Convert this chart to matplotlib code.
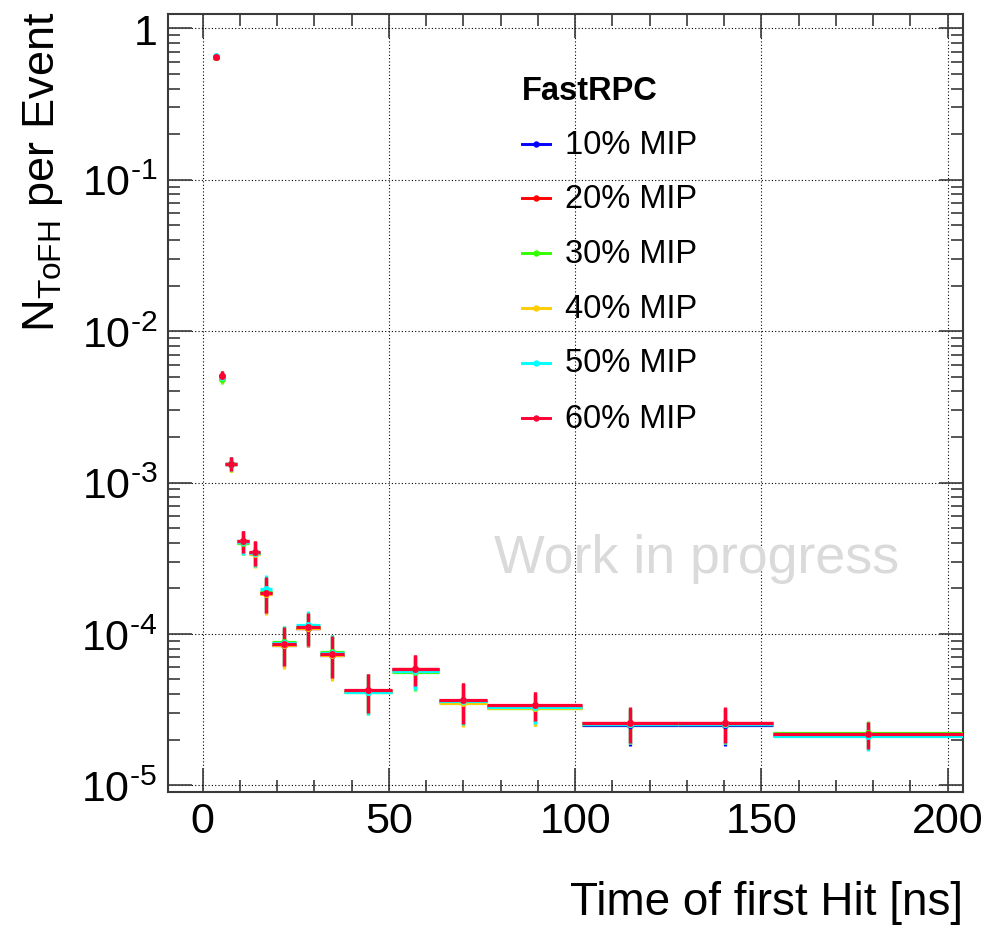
import math
import matplotlib
matplotlib.use("Agg")
import matplotlib.pyplot as plt
from matplotlib.ticker import FixedLocator, LogLocator, FuncFormatter, NullFormatter
from matplotlib.lines import Line2D

plt.rcParams['font.family'] = ['Liberation Sans', 'DejaVu Sans']
plt.rcParams['mathtext.fontset'] = 'custom'
plt.rcParams['mathtext.rm'] = 'Liberation Sans'
plt.rcParams['mathtext.it'] = 'Liberation Sans:italic'
plt.rcParams['mathtext.bf'] = 'Liberation Sans:bold'

# ---------------- data ----------------
bin_lo = [2.7, 4.3, 5.9, 9.1, 12.3, 15.5, 18.7, 25.1, 31.5, 37.9, 50.7, 63.5, 76.3, 101.9, 127.5, 153.1]
bin_hi = [4.3, 5.9, 9.1, 12.3, 15.5, 18.7, 25.1, 31.5, 37.9, 50.7, 63.5, 76.3, 101.9, 127.5, 153.1, 204.3]

labels = ["10% MIP", "20% MIP", "30% MIP", "40% MIP", "50% MIP", "60% MIP"]
colors = ["#0000ff", "#ff0000", "#33ff00", "#ffcc00", "#00ffff", "#ff0033"]

v10 = [0.648, 5.00e-3, 1.33e-3, 4.05e-4, 3.42e-4, 1.85e-4, 8.50e-5, 1.09e-4, 7.30e-5, 4.18e-5, 5.75e-5, 3.60e-5, 3.28e-5, 2.49e-5, 2.49e-5, 2.16e-5]
v20 = [0.650, 5.05e-3, 1.33e-3, 4.08e-4, 3.43e-4, 1.86e-4, 8.60e-5, 1.10e-4, 7.40e-5, 4.22e-5, 5.85e-5, 3.63e-5, 3.36e-5, 2.57e-5, 2.57e-5, 2.17e-5]
v30 = [0.646, 4.85e-3, 1.32e-3, 4.00e-4, 3.40e-4, 1.88e-4, 8.80e-5, 1.11e-4, 7.60e-5, 4.15e-5, 5.60e-5, 3.60e-5, 3.22e-5, 2.55e-5, 2.55e-5, 2.23e-5]
v40 = [0.647, 4.95e-3, 1.32e-3, 4.02e-4, 3.36e-4, 1.83e-4, 8.40e-5, 1.09e-4, 7.20e-5, 4.20e-5, 5.70e-5, 3.52e-5, 3.22e-5, 2.55e-5, 2.55e-5, 2.18e-5]
v50 = [0.660, 5.00e-3, 1.33e-3, 4.02e-4, 3.42e-4, 1.97e-4, 8.70e-5, 1.14e-4, 7.50e-5, 4.16e-5, 5.65e-5, 3.60e-5, 3.30e-5, 2.54e-5, 2.54e-5, 2.12e-5]
v60 = [0.649, 5.06e-3, 1.335e-3, 4.11e-4, 3.45e-4, 1.87e-4, 8.63e-5, 1.105e-4, 7.41e-5, 4.24e-5, 5.90e-5, 3.65e-5, 3.39e-5, 2.59e-5, 2.59e-5, 2.17e-5]

err = [4.3e-3, 3.8e-4, 1.38e-4, 0.70e-4, 0.65e-4, 0.49e-4, 2.5e-5, 2.7e-5, 2.3e-5, 1.23e-5, 1.4e-5, 1.1e-5, 0.75e-5, 0.68e-5, 0.68e-5, 0.44e-5]

series = [v10, v20, v30, v40, v50, v60]

x_major = [0, 50, 100, 150, 200]
x_minor = [10, 20, 30, 40, 60, 70, 80, 90, 110, 120, 130, 140, 160, 170, 180, 190]

# ---------------- figure ----------------
W, H = 1001, 929
fig = plt.figure(figsize=(W / 100, H / 100), dpi=100)

def fx(px):
    return px / W

def fy(py):
    return 1 - py / H

ax_l, ax_r, ax_t, ax_b = 168.3, 963.3, 15.0, 792.5
ax = fig.add_axes([fx(ax_l), fy(ax_b), fx(ax_r) - fx(ax_l), fy(ax_t) - fy(ax_b)])
ax.set_yscale('log')
ax.set_xlim(-9.25, 204.2)
ax.set_ylim(9.1e-6, 1.243)

xc = [(a + b) / 2 for a, b in zip(bin_lo, bin_hi)]
xe = [(b - a) / 2 for a, b in zip(bin_lo, bin_hi)]

for vals, col in zip(series, colors):
    ax.errorbar(xc, vals, xerr=xe, yerr=err, fmt='o', color=col, ms=5.0,
                elinewidth=2.3, capsize=0, mew=0, zorder=3)

# axes styling
frame_col = '#3a3a3a'
for s in ax.spines.values():
    s.set_linewidth(1.5)
    s.set_color(frame_col)

ax.xaxis.set_major_locator(FixedLocator(x_major))
ax.xaxis.set_minor_locator(FixedLocator(x_minor))
ax.yaxis.set_major_locator(LogLocator(base=10, numticks=20))
ax.yaxis.set_minor_locator(LogLocator(base=10, subs=[2, 3, 4, 5, 6, 7, 8, 9], numticks=20))
ax.yaxis.set_minor_formatter(NullFormatter())

def yfmt(v, pos):
    e = int(round(math.log10(v)))
    if e == 0:
        return "1"
    return "$\\mathregular{10^{\u2010%d}}$" % (-e)

ax.yaxis.set_major_formatter(FuncFormatter(yfmt))

ax.tick_params(which='both', direction='in', top=True, right=True, color=frame_col, width=1.2)
ax.tick_params(which='major', length=17)
ax.tick_params(which='minor', length=8.5)
ax.tick_params(axis='x', which='major', labelsize=31, pad=7)
ax.tick_params(axis='y', which='major', labelsize=31, pad=8)

ax.grid(True, which='major', color='black', linewidth=0.8, linestyle=(0, (1, 2)), zorder=0)
ax.set_axisbelow(True)

# axis titles
fig.text(fx(963), fy(915), "Time of first Hit [ns]", ha='right', va='baseline', fontsize=33)
fig.text(fx(54), fy(12), r"N$_{\mathregular{ToFH}}$ per Event", rotation=90, rotation_mode='anchor',
         ha='right', va='baseline', fontsize=32.5)

# watermark
fig.text(fx(494), fy(573), "Work in progress", ha='left', va='baseline', fontsize=38.7, color='#dadada', zorder=1)

# legend (manual)
fig.text(fx(522), fy(91.7), "FastRPC", ha='left', va='center', fontsize=23.5, fontweight='bold')
leg_y = [145, 199.3, 254.3, 309, 364, 419]
for lab, col, yy in zip(labels, colors, leg_y):
    fig.add_artist(Line2D([fx(521.7), fx(550)], [fy(yy), fy(yy)], color=col, lw=2.1,
                          transform=fig.transFigure))
    fig.add_artist(Line2D([fx(536)], [fy(yy)], color=col, marker='o', ms=4.6, mew=0,
                          transform=fig.transFigure))
    fig.text(fx(565), fy(yy), lab, ha='left', va='center', fontsize=23.5)

fig.savefig("out.png", dpi=100)
